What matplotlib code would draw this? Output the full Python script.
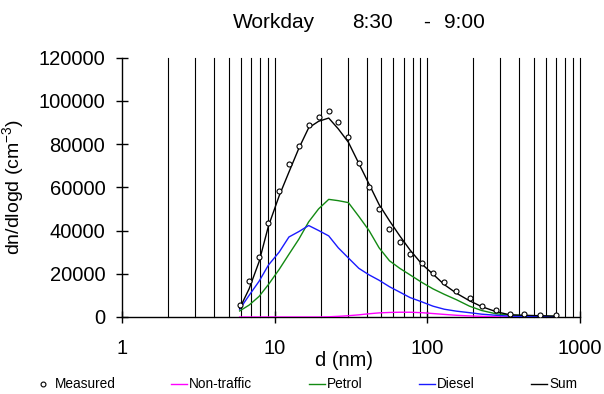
import matplotlib
matplotlib.use("Agg")
import matplotlib.pyplot as plt
from matplotlib.lines import Line2D
from matplotlib.ticker import FixedLocator, NullFormatter

plt.rcParams['font.family'] = ['Liberation Sans', 'DejaVu Sans']
plt.rcParams['mathtext.fontset'] = 'custom'
plt.rcParams['mathtext.rm'] = 'Liberation Sans'
plt.rcParams['mathtext.it'] = 'Liberation Sans:italic'

# Diameter grid (nm)
d = [5.9, 6.8, 7.9, 9.1, 10.7, 12.4, 14.4, 16.7, 19.4, 22.6, 26.1, 30.4, 35.6,
     41.5, 48.3, 56.5, 66, 77, 92, 109, 129, 155, 189, 227, 281, 347, 430, 543, 695]

measured = [5600, 16600, 27600, 43300, 58300, 70800, 78900, 88700, 92600, 95300,
            90200, 83100, 71300, 60100, 49900, 40900, 34900, 29200, 25000, 20300,
            16300, 12100, 8700, 5100, 3300, 1500, 1200, 900, 800]

non_traffic = [0, 0, 0, 0, 0, 0, 0, 0, 0, 100, 300, 600, 1000, 1500, 1900, 2100,
               2200, 2200, 2000, 1600, 1200, 800, 500, 300, 100, 0, 0, 0, 0]

petrol = [2800, 5500, 9500, 15000, 22000, 29000, 36000, 44000, 50000, 54400,
          53800, 52900, 46500, 40000, 32000, 26000, 22500, 19500, 16000, 13000,
          10500, 8000, 5000, 3000, 1500, 900, 600, 400, 300]

diesel = [3600, 10000, 16500, 24000, 30000, 37000, 39500, 42300, 40000, 37500,
          32000, 27300, 22500, 19500, 17000, 14000, 11500, 9000, 7000, 5000,
          3600, 2700, 2000, 1300, 800, 400, 300, 200, 100]

total = [4000, 13000, 25500, 42000, 56000, 67000, 78000, 87500, 90500, 92000,
         87000, 80800, 71000, 61500, 52000, 44500, 37500, 31000, 24500, 19800,
         15000, 11000, 7500, 4800, 2500, 1000, 800, 600, 400]

x_major = [1, 10, 100, 1000]
x_major_labels = ['1', '10', '100', '1000']
x_grid = [m * 10 ** k for k in range(0, 3) for m in range(2, 11)]
y_ticks = [0, 20000, 40000, 60000, 80000, 100000, 120000]

W, H = 604, 394
fig = plt.figure(figsize=(W / 100, H / 100), dpi=100)
ax = fig.add_axes([122 / W, 1 - 317 / H, (580 - 122) / W, (317 - 57.5) / H])

for g in x_grid:
    ax.axvline(g, color='black', lw=0.8, zorder=1, clip_on=False)

ax.plot(d, non_traffic, color='#ff00ff', lw=1.0, zorder=3)
ax.plot(d, petrol, color='#138a13', lw=1.0, zorder=3)
ax.plot(d, diesel, color='#1a1aff', lw=1.0, zorder=3)
ax.plot(d, total, color='black', lw=1.0, zorder=3)
ax.plot(d, measured, linestyle='none', marker='o', ms=3.6, mfc='white',
        mec='black', mew=0.8, zorder=4)

ax.set_xscale('log')
ax.set_xlim(1, 1000)
ax.set_ylim(0, 120000)
ax.xaxis.set_major_locator(FixedLocator(x_major))
ax.set_xticklabels(x_major_labels)
ax.xaxis.set_minor_locator(FixedLocator([]))
ax.xaxis.set_minor_formatter(NullFormatter())
ax.set_yticks(y_ticks)
ax.set_yticklabels([str(v) for v in y_ticks])

for s in ['top', 'right']:
    ax.spines[s].set_visible(False)
for s in ['left', 'bottom']:
    ax.spines[s].set_linewidth(1.0)

ax.tick_params(axis='x', direction='inout', length=8, width=1.0, pad=12,
               labelsize=14.5)
ax.tick_params(axis='y', direction='inout', length=8, width=1.0, pad=8,
               labelsize=14.5)

ax.set_ylabel('dn/dlogd (cm$^{-3}$)', fontsize=14, labelpad=9)

fig.text(344 / W, 1 - 360 / H, 'd (nm)', fontsize=14.5, ha='center', va='center')

# Title pieces
ty = 1 - 22 / H
fig.text(233 / W, ty, 'Workday', fontsize=15, ha='left', va='center')
fig.text(352 / W, ty, '8:30', fontsize=15, ha='left', va='center')
fig.text(423 / W, ty, '-', fontsize=15, ha='left', va='center')
fig.text(444 / W, ty, '9:00', fontsize=15, ha='left', va='center')

# Legend
ly = 1 - 384 / H
fig.add_artist(Line2D([43.5 / W], [ly], transform=fig.transFigure, marker='o',
                      ms=3.5, mfc='white', mec='black', mew=0.8, linestyle='none'))
fig.text(55 / W, ly, 'Measured', fontsize=9.8, ha='left', va='center')
leg_items = [(171, '#ff00ff', 'Non-traffic'), (309, '#138a13', 'Petrol'),
             (419, '#1a1aff', 'Diesel'), (531, 'black', 'Sum')]
for x0, c, lab in leg_items:
    fig.add_artist(Line2D([x0 / W, (x0 + 16) / W], [ly, ly], transform=fig.transFigure,
                          color=c, lw=1.0))
    fig.text((x0 + 18) / W, ly, lab, fontsize=9.8, ha='left', va='center')

fig.savefig('out.png', dpi=100)
